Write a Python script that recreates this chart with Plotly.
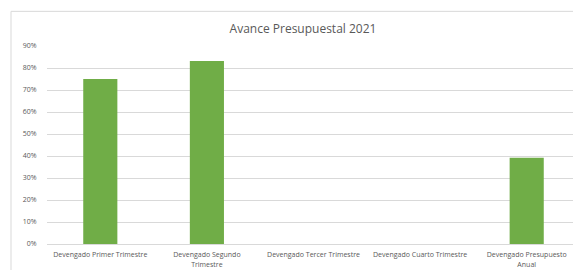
import plotly.graph_objects as go

categories = [
    "Devengado Primer Trimestre",
    "Devengado Segundo<br>Trimestre",
    "Devengado Tercer Trimestre",
    "Devengado Cuarto Trimestre",
    "Devengado Presupuesto<br>Anual",
]
values = [0.75, 0.832, 0, 0, 0.392]
tick_vals = [0, 0.1, 0.2, 0.3, 0.4, 0.5, 0.6, 0.7, 0.8, 0.9]
tick_text = ["0%", "10%", "20%", "30%", "40%", "50%", "60%", "70%", "80%", "90%"]

W, H = 581, 270
L, R, T, B = 39, 9, 38, 32
pw, ph = W - L - R, H - T - B

def px_x(p):
    return (p - L) / pw

def px_y(p):
    return (H - B - p) / ph

fig = go.Figure(go.Bar(
    x=categories, y=values, marker=dict(color="#70AD47", line=dict(width=0)),
    width=0.32,
))

fig.update_layout(
    width=W, height=H,
    margin=dict(l=L, r=R, t=T, b=B),
    paper_bgcolor="white", plot_bgcolor="white",
    showlegend=False,
    title=dict(text="Avance Presupuestal 2021", x=px_x(295), xref="paper", xanchor="center",
               y=1 - 21 / H, yanchor="middle",
               font=dict(family="Open Sans, sans-serif", size=12, color="#595959")),
    font=dict(family="Open Sans, sans-serif", size=8, color="#595959"),
    xaxis=dict(showgrid=False, showline=True, linecolor="#D9D9D9", linewidth=1,
               tickangle=0, tickfont=dict(size=7, color="#595959"), ticks="outside",
               ticklen=4, tickcolor="rgba(0,0,0,0)", fixedrange=True),
    yaxis=dict(range=[0, 0.9], tickvals=tick_vals, ticktext=tick_text,
               showgrid=True, gridcolor="#D9D9D9", gridwidth=1, zeroline=False,
               showline=False, ticks="outside", ticklen=8, tickcolor="rgba(0,0,0,0)",
               tickfont=dict(size=7, color="#595959")),
    shapes=[dict(type="rect", xref="paper", yref="paper",
                 x0=px_x(3), x1=px_x(578), y0=px_y(268), y1=px_y(3),
                 line=dict(color="#D9D9D9", width=1), fillcolor="rgba(0,0,0,0)", layer="below")],
)

fig.write_html("out.html")
